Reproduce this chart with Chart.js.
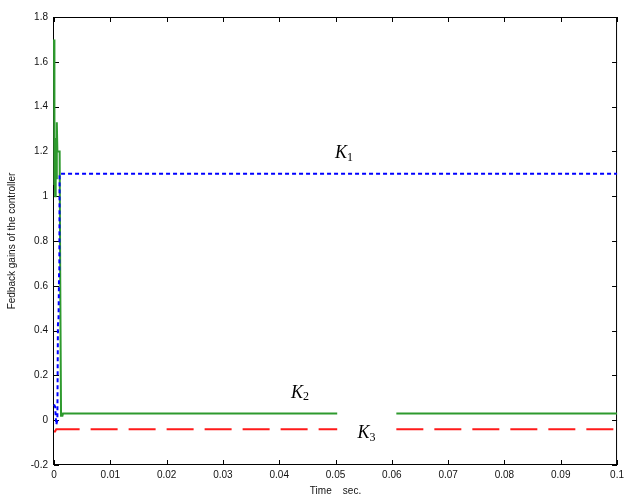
<!DOCTYPE html>
<html>
<head>
<meta charset="utf-8">
<script src="https://cdn.jsdelivr.net/npm/chart.js@4/dist/chart.umd.min.js"></script>
<style>
  html, body { margin: 0; padding: 0; background: #fff; }
  #wrap { width: 628px; height: 495px; }
</style>
</head>
<body>
<div id="wrap"><canvas id="gainChart" width="628" height="495"></canvas></div>
<script>
// values (time in seconds)
const k1Time = [0, 0.0002, 0.0004, 0.0005, 0.0006, 0.0007, 0.0008, 0.0009, 0.00095, 0.001, 0.1];
const k1Gain = [0.07, 0.06, -0.02, -0.01, 0.0, 0.43, 0.44, 0.66, 0.67, 1.1, 1.1];

const k2Time = [0, 0.00005, 0.0001, 0.0002, 0.0003, 0.0004, 0.0005, 0.0006, 0.0007, 0.001, 0.0011, 0.0012, 0.00125, 0.0015, 0.0016, 0.0503, 0.0555, 0.0608, 0.1];
const k2Gain = [1.7, 1.05, 1.25, 1.0, 1.26, 1.08, 1.33, 1.2, 1.2, 1.2, 0.66, 0.66, 0.02, 0.02, 0.03, 0.03, null, 0.03, 0.03];

const k3Time = [0, 0.0002, 0.0004, 0.0503, 0.0555, 0.0608, 0.1];
const k3Gain = [-0.05, -0.05, -0.04, -0.04, null, -0.04, -0.04];

const xTickLabels = ["0", "0.01", "0.02", "0.03", "0.04", "0.05", "0.06", "0.07", "0.08", "0.09", "0.1"];
const yTickLabels = ["-0.2", "0", "0.2", "0.4", "0.6", "0.8", "1", "1.2", "1.4", "1.6", "1.8"];

const curveNames = ["K1", "K2", "K3"];

function toPoints(xs, ys) {
  return xs.map((x, i) => ({ x: x, y: ys[i] }));
}

// matlab style box with ticks pointing inward + curve labels
const boxPlugin = {
  id: "boxTicks",
  beforeDatasetsDraw(chart) {
    const ctx = chart.ctx;
    const a = chart.chartArea;
    const xs = chart.scales.x;
    const ys = chart.scales.y;
    ctx.save();
    ctx.strokeStyle = "#000";
    ctx.lineWidth = 1;
    ctx.strokeRect(a.left - 0.5, a.top + 0.5, a.right - a.left, a.bottom - a.top - 1);
    ctx.beginPath();
    xs.ticks.forEach((t) => {
      const px = Math.round(xs.getPixelForValue(t.value)) + 0.5;
      ctx.moveTo(px, a.bottom);
      ctx.lineTo(px, a.bottom - 5);
      ctx.moveTo(px, a.top);
      ctx.lineTo(px, a.top + 5);
    });
    ys.ticks.forEach((t) => {
      const py = Math.round(ys.getPixelForValue(t.value)) + 0.5;
      ctx.moveTo(a.left, py);
      ctx.lineTo(a.left + 5, py);
      ctx.moveTo(a.right, py);
      ctx.lineTo(a.right - 5, py);
    });
    ctx.stroke();
    ctx.restore();
  },
  afterDatasetsDraw(chart) {
    const ctx = chart.ctx;
    const xs = chart.scales.x;
    const ys = chart.scales.y;
    // curve labels K1, K2, K3
    const spots = [[0.0515, 1.19], [0.0437, 0.12], [0.0555, -0.06]];
    ctx.save();
    ctx.fillStyle = "#000";
    ctx.textBaseline = "middle";
    curveNames.forEach((name, i) => {
      const px = xs.getPixelForValue(spots[i][0]);
      const py = ys.getPixelForValue(spots[i][1]);
      ctx.font = "italic 18px 'Liberation Serif'";
      const w = ctx.measureText("K").width;
      ctx.textAlign = "left";
      ctx.fillText("K", px - 9, py);
      ctx.font = "12px 'Liberation Serif'";
      ctx.fillText(name.slice(1), px - 9 + w, py + 4);
    });
    ctx.restore();
  },
};

const ctx = document.getElementById("gainChart").getContext("2d");
new Chart(ctx, {
  type: "line",
  data: {
    datasets: [
      {
        label: "K1",
        data: toPoints(k1Time, k1Gain),
        borderColor: "#0000ff",
        borderWidth: 2,
        borderDash: [4, 3],
        pointRadius: 0,
        tension: 0,
        clip: 2,
      },
      {
        label: "K2",
        data: toPoints(k2Time, k2Gain),
        borderColor: "#2e9a2e",
        borderWidth: 2,
        pointRadius: 0,
        tension: 0,
        clip: 2,
      },
      {
        label: "K3",
        data: toPoints(k3Time, k3Gain),
        borderColor: "#ff1a1a",
        borderWidth: 2,
        borderDash: [27, 11],
        pointRadius: 0,
        tension: 0,
        clip: 2,
      },
    ],
  },
  options: {
    responsive: false,
    animation: false,
    spanGaps: false,
    layout: { padding: { top: 17, right: 6, bottom: 0, left: 0 } },
    plugins: {
      legend: { display: false },
      tooltip: { enabled: false },
    },
    scales: {
      x: {
        type: "linear",
        min: 0,
        max: 0.1,
        afterFit(scale) {
          scale.height = 30;
        },
        afterBuildTicks(scale) {
          scale.ticks = xTickLabels.map((s) => ({ value: parseFloat(s) }));
        },
        grid: { display: false, drawTicks: false },
        border: { display: false },
        ticks: {
          padding: 4,
          color: "#111",
          font: { family: "'Liberation Sans'", size: 10 },
          maxRotation: 0,
          autoSkip: false,
          callback: (v, i) => xTickLabels[i],
        },
        title: {
          display: true,
          text: "Time    sec.",
          color: "#111",
          font: { family: "'Liberation Sans'", size: 10 },
          padding: { top: 0, bottom: -2 },
        },
      },
      y: {
        min: -0.2,
        max: 1.8,
        afterFit(scale) {
          scale.width = 54;
        },
        afterBuildTicks(scale) {
          scale.ticks = yTickLabels.map((s) => ({ value: parseFloat(s) }));
        },
        grid: { display: false, drawTicks: false },
        border: { display: false },
        ticks: {
          padding: 6,
          color: "#111",
          font: { family: "'Liberation Sans'", size: 10 },
          autoSkip: false,
          callback: (v, i) => yTickLabels[i],
        },
        title: {
          display: true,
          text: "Fedback gains of the controller",
          color: "#111",
          font: { family: "'Liberation Sans'", size: 10 },
          padding: { top: 6, bottom: 0 },
        },
      },
    },
  },
  plugins: [boxPlugin],
});
</script>
</body>
</html>
